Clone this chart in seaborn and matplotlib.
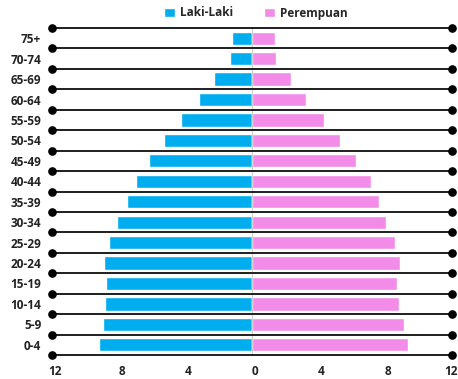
import numpy as np
import pandas as pd
import matplotlib
matplotlib.use("Agg")
import matplotlib.pyplot as plt
import matplotlib.transforms as mtransforms
import seaborn as sns
from matplotlib.patches import Patch

# Age groups, oldest at the top
age_groups = ["75+", "70-74", "65-69", "60-64", "55-59", "50-54", "45-49", "40-44",
              "35-39", "30-34", "25-29", "20-24", "15-19", "10-14", "5-9", "0-4"]
# Share of population (%) by sex
laki_laki = [1.2, 1.35, 2.3, 3.2, 4.3, 5.3, 6.2, 7.0,
             7.5, 8.1, 8.6, 8.9, 8.8, 8.85, 8.95, 9.2]
perempuan = [1.35, 1.4, 2.3, 3.2, 4.3, 5.25, 6.25, 7.1,
             7.6, 8.05, 8.55, 8.85, 8.7, 8.8, 9.1, 9.35]
tick_values = [-12, -8, -4, 0, 4, 8, 12]

blue = "#00AEEF"
pink = "#F38CE9"

sns.set_theme(style="white")
plt.rcParams["font.family"] = ["Open Sans", "DejaVu Sans"]

df = pd.DataFrame({"age": age_groups,
                   "male": -np.array(laki_laki),
                   "female": np.array(perempuan)})

fig = plt.figure(figsize=(4.58, 3.79), dpi=100)
ax = fig.add_axes([52.3 / 458, 1 - 355 / 379, 400 / 458, (355 - 28) / 379])

sns.barplot(data=df, x="male", y="age", orient="h", color=blue,
            width=0.65, saturation=1, ax=ax, zorder=2)
sns.barplot(data=df, x="female", y="age", orient="h", color=pink,
            width=0.65, saturation=1, ax=ax, zorder=2)

ax.set_xlim(-12, 12)
ax.set_ylim(len(age_groups) - 0.5, -0.5)

# Horizontal separators with dots at both ends
for b in np.arange(-0.5, len(age_groups), 1.0):
    ax.plot([-12, 12], [b, b], color="#1e1e1e", lw=1.4, zorder=3, clip_on=False,
            solid_capstyle="butt")
    ax.plot([-12, 12], [b, b], ls="none", marker="o", ms=5.2, color="black",
            zorder=4, clip_on=False)

ax.axvline(0, color="#d0d0d0", lw=0.8, zorder=2.5)

for s in ax.spines.values():
    s.set_visible(False)

ax.set_xticks(tick_values)
ax.set_xticklabels([str(abs(v)) for v in tick_values], fontsize=8.5,
                   fontweight="bold", color="#222222")
ax.tick_params(axis="x", length=0, pad=7)
ax.tick_params(axis="y", length=0, pad=8)
xlabels = ax.get_xticklabels()
for i, lbl in enumerate(xlabels):
    dx = 2.5 if i < len(xlabels) - 1 else -1.5
    shift = mtransforms.ScaledTranslation(dx / 100, 0, fig.dpi_scale_trans)
    lbl.set_transform(lbl.get_transform() + shift)
for lbl in ax.get_yticklabels():
    lbl.set_fontsize(8.5)
    lbl.set_fontweight("bold")
    lbl.set_color("#222222")
ax.set_xlabel("")
ax.set_ylabel("")

handles = [Patch(facecolor=blue, label="Laki-Laki"),
           Patch(facecolor=pink, label="Perempuan")]
fig.legend(handles=handles, loc="center", bbox_to_anchor=(256 / 458, 1 - 13 / 379),
           ncol=2, frameon=False, handlelength=0.9, handleheight=0.9,
           handletextpad=0.45, columnspacing=2.6,
           prop={"size": 8.5, "weight": "bold"})

fig.savefig("out.png", dpi=100)
